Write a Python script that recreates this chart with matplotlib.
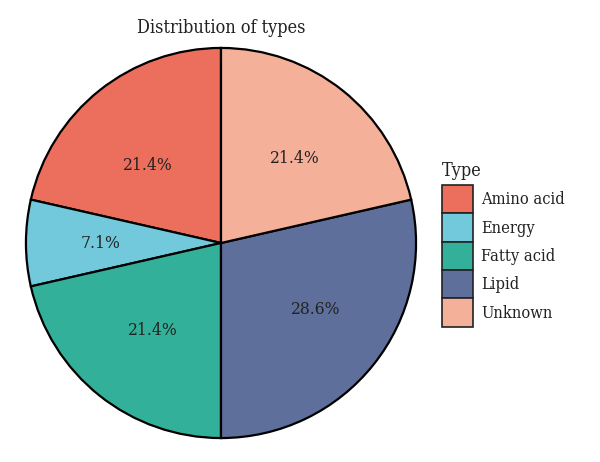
import matplotlib.pyplot as plt
import numpy as np
from matplotlib.patches import Patch

plt.rcParams['font.family'] = ['DejaVu Serif']
plt.rcParams['font.stretch'] = 'condensed'

types = ['Amino acid', 'Energy', 'Fatty acid', 'Lipid', 'Unknown']
counts = [3, 1, 3, 4, 3]
colors = ['#EB6F5C', '#72C9DC', '#33B09A', '#5E6F9B', '#F5B09A']

# label placement (radius fraction, angle nudge in degrees)
label_dist = [0.546, 0.617, 0.568, 0.596, 0.575]
label_nudge = [4.5, 0, 0.5, 3.5, -2.8]

fig = plt.figure(figsize=(6, 4.62), dpi=100)
ax = fig.add_axes([24 / 600, 22 / 462, 394 / 600, 394 / 462])

wedges, _ = ax.pie(counts, colors=colors, startangle=90, counterclock=True,
                   radius=1, wedgeprops=dict(edgecolor='black', linewidth=1.6))

total = sum(counts)
for w, c, d, n in zip(wedges, counts, label_dist, label_nudge):
    mid = np.deg2rad((w.theta1 + w.theta2) / 2 + n)
    ax.text(d * np.cos(mid), d * np.sin(mid), f'{100 * c / total:.1f}%',
            ha='center', va='center', fontsize=12.5, color='#222222')

ax.set_xlim(-1.01, 1.01)
ax.set_ylim(-1.01, 1.01)
ax.set_aspect('equal')
ax.axis('off')

fig.text(221 / 600, 1 - 28 / 462, 'Distribution of types', ha='center', va='center',
         fontsize=13, color='#222222')

handles = [Patch(facecolor=c, edgecolor='#222222', linewidth=1.2) for c in colors]
leg = fig.legend(handles, types, title='Type', loc='upper left',
                 bbox_to_anchor=(435 / 600, 1 - 155 / 462), frameon=False,
                 fontsize=11.8, title_fontsize=13, handlelength=1.9, handleheight=2.28,
                 labelspacing=0, handletextpad=0.5, borderaxespad=0)
leg._legend_box.align = 'left'
leg._legend_box.sep = 4
leg.get_title().set_color('#222222')
for t in leg.get_texts():
    t.set_color('#222222')

fig.savefig('out.png', dpi=100)
